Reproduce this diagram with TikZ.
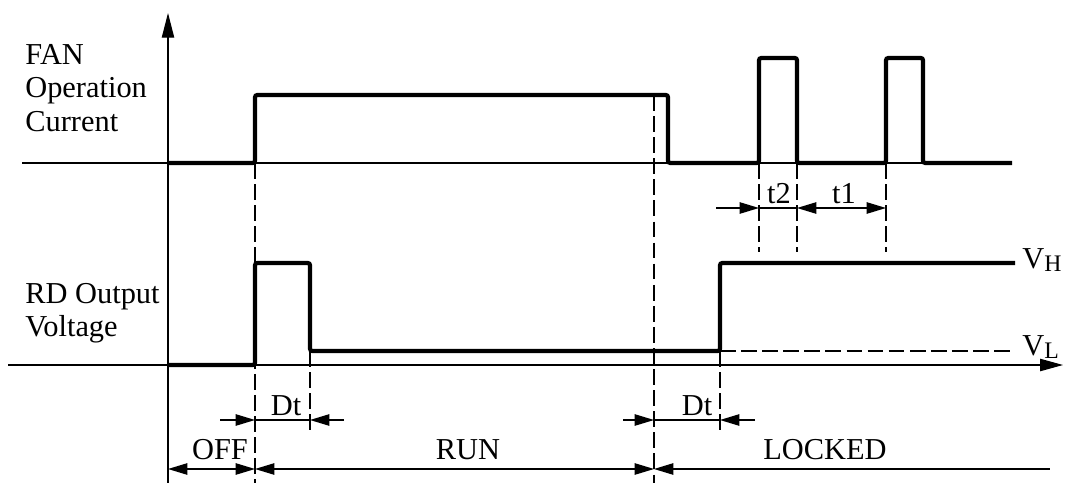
\documentclass[tikz,border=0pt]{standalone}
\usepackage{fontspec}
\setmainfont{Liberation Serif}
\usetikzlibrary{arrows.meta}

\newcommand{\lvlsub}[1]{V{\fontsize{13.5}{13.5}\selectfont\raisebox{-0.3ex}{#1}}}

\begin{document}
\begin{tikzpicture}[x=0.02cm, y=-0.02cm,
  >={Triangle[length=11pt,width=6.5pt]},
  sig/.style={line width=2.4pt, rounded corners=1.3pt},
  axis/.style={line width=0.65pt},
  guide/.style={line width=0.6pt, dash pattern=on 9pt off 3pt},
  dim/.style={line width=0.65pt},
  lbl/.style={font=\fontsize{17.3}{19}\selectfont, inner sep=0pt}]
\useasboundingbox (0,0) rectangle (1065,483);
% Labels
\node[lbl, anchor=north west, align=left] (fan) at (25,44) {FAN\\Operation\\Current};
\node[lbl, anchor=north west, align=left] (rd) at (25,283) {RD Output\\Voltage};
\node[lbl, anchor=base west] (vh) at (1022,268) {\lvlsub{H}};
\node[lbl, anchor=base west] (vl) at (1022,355) {\lvlsub{L}};
\node[lbl, anchor=base] (dt1) at (286,415) {Dt};
\node[lbl, anchor=base] (dt2) at (697,415) {Dt};
\node[lbl, anchor=base] (tt2) at (779,203) {t2};
\node[lbl, anchor=base] (tt1) at (844,203) {t1};
\node[lbl, anchor=base] (off) at (220,459) {OFF};
\node[lbl, anchor=base] (run) at (468,459) {RUN};
\node[lbl, anchor=base] (lck) at (825,459) {LOCKED};
% Axes
\draw[axis, -{Triangle[length=14pt,width=7pt]}] (168,483) -- (168,13);
\draw[axis] (22,163) -- (1012,163);
\draw[axis, -{Triangle[length=13pt,width=7pt]}] (8,365) -- (1063,365);
% Guides
\draw[guide] (255,163) -- (255,483);
\draw[guide] (654,95) -- (654,483);
\draw[guide] (310,351) -- (310,430);
\draw[guide] (720,351) -- (720,430);
\draw[guide] (759,163) -- (759,252);
\draw[guide] (797,163) -- (797,252);
\draw[guide] (886,163) -- (886,252);
\draw[guide] (720,351) -- (1015,351);
% Signals
\draw[sig] (168,163) -- (255,163) -- (255,95) -- (668,95) -- (668,163) -- (759,163)
  -- (759,58) -- (797,58) -- (797,163) -- (886,163) -- (886,58) -- (923,58)
  -- (923,163) -- (1012,163);
\draw[sig] (168,365) -- (255,365) -- (255,263) -- (310,263) -- (310,351)
  -- (720,351) -- (720,263) -- (1015,263);
% Dimensions
\coordinate (dl0) at (220,420); \coordinate (dl1) at (255,420);
\coordinate (dl2) at (310,420); \coordinate (dl3) at (344,420);
\coordinate (dr0) at (623,420); \coordinate (dr1) at (654,420);
\coordinate (dr2) at (720,420); \coordinate (dr3) at (755,420);
\coordinate (tp0) at (716,208); \coordinate (tp1) at (759,208);
\coordinate (tp2) at (797,208); \coordinate (tp3) at (886,208);
\coordinate (ph0) at (168,469); \coordinate (ph1) at (255,469);
\coordinate (ph2) at (654,469); \coordinate (ph3) at (1050,469);
\draw[dim, ->] (dl0) -- (dl1);
\draw[dim] (dl1) -- (dl2);
\draw[dim, ->] (dl3) -- (dl2);
\draw[dim, ->] (dr0) -- (dr1);
\draw[dim] (dr1) -- (dr2);
\draw[dim, ->] (dr3) -- (dr2);
\draw[dim, ->] (tp0) -- (tp1);
\draw[dim] (tp1) -- (tp2);
\draw[dim, <->] (tp2) -- (tp3);
\draw[dim, <->] (ph0) -- (ph1);
\draw[dim, <->] (ph1) -- (ph2);
\draw[dim, <-] (ph2) -- (ph3);
\end{tikzpicture}
\end{document}
